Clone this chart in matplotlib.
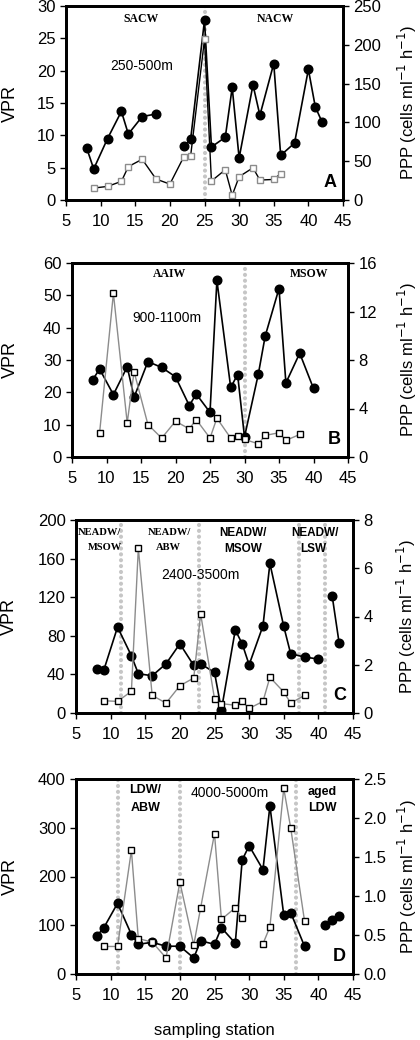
import numpy as np
import matplotlib
matplotlib.use("Agg")
import matplotlib.pyplot as plt

nan = np.nan
plt.rcParams["font.family"] = ["Liberation Sans", "DejaVu Sans"]

# Panel A: 250-500 m
a_vpr_x = [8, 9, 11, 13, 14, 16, 18, 20, 22, 23, 25, 26, 28, 29, 30, 32, 33, 35, 36, 38, 40, 41, 42]
a_vpr = [8.0, 4.8, 9.5, 13.7, 10.2, 12.9, 13.3, nan, 8.3, 9.4, 27.8, 8.2, 9.7, 17.4, 6.5, 17.8, 13.1, 21.1, 6.9, 8.8, 20.2, 14.4, 12.0]
a_ppp_x = [9, 11, 13, 14, 16, 18, 20, 22, 23, 25, 26, 28, 29, 30, 32, 33, 35, 36]
a_ppp = [15.4, 17.5, 24, 43, 52.5, 27, 20.5, 55.5, 57, 207, 24.4, 39, 6, 30, 41.5, 25.7, 26.5, 34]

# Panel B: 900-1100 m
b_vpr_x = [8, 9, 11, 13, 14, 16, 18, 20, 22, 23, 25, 26, 28, 29, 30, 32, 33, 35, 36, 38, 40]
b_vpr = [23.9, 27.2, 19.3, 27.9, 18.5, 29.5, 27.7, 24.8, 15.9, 19.5, 13.8, 54.6, 21.5, 25.5, 6.2, 25.6, 37.4, 52.1, 22.9, 32.1, 21.2]
b_ppp_x = [9, 11, 13, 14, 16, 18, 20, 22, 23, 25, 26, 28, 29, 30, 32, 33, 35, 36, 38]
b_ppp = [2.0, 13.5, 2.82, 7.03, 2.68, 1.56, 2.95, 2.32, 3.09, 1.56, 3.2, 1.56, 1.7, 1.45, 1.09, 1.78, 2.0, 1.37, 1.86]

# Panel C: 2400-3500 m
c_vpr_x = [8, 9, 11, 13, 14, 16, 18, 20, 22, 23, 25, 26, 28, 29, 30, 32, 33, 35, 36, 38, 40, 41, 42, 43]
c_vpr = [45.9, 44.1, 89, 59.3, 40.7, 38.6, 51, 71.7, 49.3, 51, 42, 3.4, 86, 71.7, 50, 90.3, 155, 89.7, 61.4, 58, 55.9, nan, 121, 72.4]
c_ppp_x = [9, 11, 13, 14, 16, 18, 20, 22, 23, 25, 26, 28, 29, 30, 32, 33, 35, 36, 38]
c_ppp = [0.51, 0.48, 0.9, 6.83, 0.73, 0.41, 1.13, 1.45, 4.11, 0.59, 0.39, 0.32, 0.48, 0.19, 0.48, 1.48, 0.87, 0.41, 0.73]

# Panel D: 4000-5000 m
d_vpr_x = [8, 9, 11, 13, 14, 16, 18, 20, 22, 23, 25, 26, 28, 29, 30, 32, 33, 35, 36, 38, 40, 41, 42, 43]
d_vpr = [78, 94.5, 145, 81, 61, 65, 57, 57, 33, 68, 61, 95, 63, 234, 263, 214, 345, 121, 126, 57, nan, 101, 110, 119]
d_ppp_x = [9, 11, 13, 14, 16, 18, 20, 22, 23, 25, 26, 28, 29, 30, 32, 33, 35, 36, 38]
d_ppp = [0.353, 0.353, 1.586, 0.453, 0.41, 0.207, 1.177, 0.371, 0.849, 1.80, 0.70, 0.849, 0.716, nan, 0.388, 0.603, 2.38, 1.875, 0.681]

W, H = 420, 1040

panels = [
    dict(box=(66, 343, 6, 200), vx=a_vpr_x, v=a_vpr, px=a_ppp_x, p=a_ppp,
         vlim=30, vstep=5, plim=250, pstep=50, pfmt="{:.0f}", letter="A", lines=[25],
         depth=("250-500m", 15.9, 0.69), sq_edge="#8c8c8c", sq_line="black", lab=(10, 407)),
    dict(box=(72, 348, 263, 457), vx=b_vpr_x, v=b_vpr, px=b_ppp_x, p=b_ppp,
         vlim=60, vstep=10, plim=16, pstep=4, pfmt="{:.0f}", letter="B", lines=[30],
         depth=("900-1100m", 18.8, 0.716), sq_edge="black", sq_line="#8c8c8c", lab=(10, 407)),
    dict(box=(76, 353, 520, 713), vx=c_vpr_x, v=c_vpr, px=c_ppp_x, p=c_ppp,
         vlim=200, vstep=40, plim=8, pstep=2, pfmt="{:.0f}", letter="C", lines=[11.5, 22.7, 37.2, 41.0],
         depth=("2400-3500m", 23.0, 0.715), sq_edge="black", sq_line="#8c8c8c", lab=(9, 406)),
    dict(box=(76, 353, 779, 974), vx=d_vpr_x, v=d_vpr, px=d_ppp_x, p=d_ppp,
         vlim=400, vstep=100, plim=2.5, pstep=0.5, pfmt="{:.1f}", letter="D", lines=[11, 20, 36.8],
         depth=("4000-5000m", 27.2, 0.928), sq_edge="black", sq_line="#8c8c8c", lab=(10, 407)),
]

# water mass labels: (text, x, y in axes fraction, serif?, size)
masses = [
    [("SACW", 15.9, 0.933, True, 8.5), ("NACW", 35.3, 0.933, True, 8.5)],
    [("AAIW", 19.2, 0.943, True, 8.5), ("MSOW", 39.4, 0.943, True, 8.5)],
    [("NEADW/", 8.4, 0.933, True, 7.6), ("MSOW", 9.2, 0.855, True, 7.6),
     ("NEADW/", 18.5, 0.933, True, 7.6), ("ABW", 18.4, 0.855, True, 7.6),
     ("NEADW/", 29.1, 0.933, False, 8.5), ("MSOW", 29.2, 0.852, False, 8.5),
     ("NEADW/", 39.5, 0.933, False, 8.5), ("LSW", 39.3, 0.852, False, 8.5)],
    [("LDW/", 15.0, 0.944, False, 9), ("ABW", 15.0, 0.853, False, 9),
     ("aged", 40.6, 0.935, False, 9), ("LDW", 40.6, 0.85, False, 9)],
]

fig = plt.figure(figsize=(W / 100, H / 100), dpi=100)

for i, pn in enumerate(panels):
    l, r, t, b = pn["box"]
    ax = fig.add_axes([l / W, 1 - b / H, (r - l) / W, (b - t) / H])
    ax2 = ax.twinx()

    for xv in pn["lines"]:
        ax.axvline(xv, color="#c6c6c6", lw=3, linestyle=(0, (0.01, 1.4)),
                   dash_capstyle="round", zorder=1)

    ax.plot(pn["vx"], pn["v"], color="black", lw=1.2, marker="o", markersize=6.2,
            markerfacecolor="black", markeredgecolor="black", zorder=3)
    ax2.plot(pn["px"], pn["p"], color=pn["sq_line"], lw=1.0, marker="s", markersize=4.8,
             markerfacecolor="white", markeredgecolor=pn["sq_edge"], markeredgewidth=1.0)

    ax.set_xlim(5, 45)
    ax.set_xticks(range(5, 46, 5))
    ax.set_ylim(0, pn["vlim"])
    ax.set_yticks(np.arange(0, pn["vlim"] + 1e-9, pn["vstep"]))
    ax2.set_ylim(0, pn["plim"])
    pt = np.arange(0, pn["plim"] + 1e-9, pn["pstep"])
    ax2.set_yticks(pt)
    ax2.set_yticklabels([pn["pfmt"].format(t) for t in pt])

    for a in (ax, ax2):
        for s in a.spines.values():
            s.set_linewidth(2)
        a.tick_params(direction="out", length=4, width=1, labelsize=12, colors="black")
    ax.tick_params(axis="x", pad=6)

    ax.set_ylabel("VPR", fontsize=13)
    ax2.set_ylabel("PPP (cells ml$^{-1}$ h$^{-1}$)", fontsize=12)
    for a, px_ in ((ax, pn["lab"][0]), (ax2, pn["lab"][1])):
        a.yaxis.label.set_verticalalignment("center")
        a.yaxis.label.set_horizontalalignment("center")
        a.yaxis.set_label_coords((px_ - l) / (r - l), 0.5)

    txt, tx, ty = pn["depth"]
    ax.text(tx, ty, txt, transform=ax.get_xaxis_transform(), ha="center", va="center",
            fontsize=10, zorder=5)
    ax.text(0.975, 0.045, pn["letter"], transform=ax.transAxes, ha="right", va="bottom",
            fontsize=13, fontweight="bold", zorder=5)

    for t, mx, my, serif, fs in masses[i]:
        fam = "Liberation Serif" if serif else "Liberation Sans"
        ax.text(mx, my, t, transform=ax.get_xaxis_transform(), ha="center", va="center",
                fontsize=fs, fontweight="bold", family=fam, zorder=5)

    if i == 3:
        fig.text((l + r) / 2 / W, 1 - 1031 / H, "sampling station", ha="center", va="center",
                 fontsize=12)

fig.savefig("out.png", dpi=100)
